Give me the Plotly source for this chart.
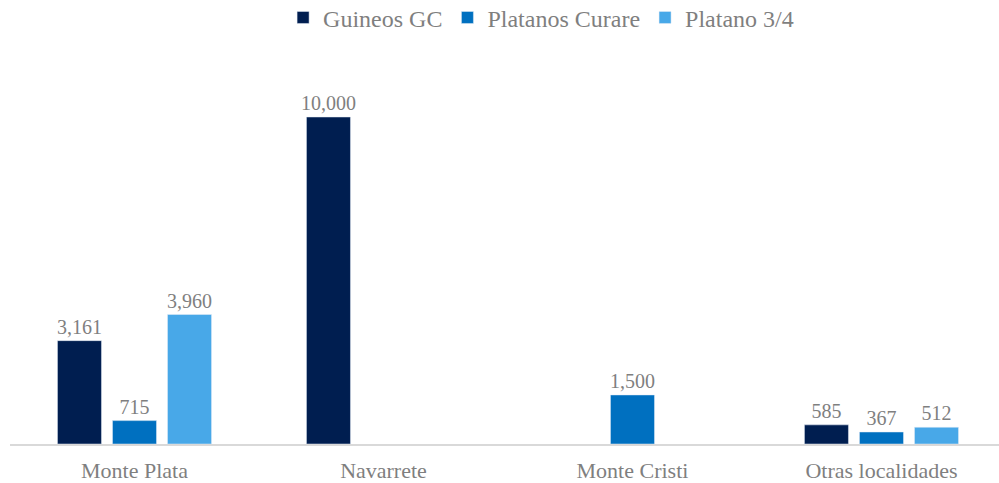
import plotly.graph_objects as go

categories = ["Monte Plata", "Navarrete", "Monte Cristi", "Otras localidades"]
series_names = ["Guineos GC", "Platanos Curare", "Platano 3/4"]
guineos_gc = [3161, 10000, None, 585]
platanos_curare = [715, None, 1500, 367]
platano_34 = [3960, None, None, 512]
colors = ["#001E50", "#0070C0", "#48A8E8"]

fig = go.Figure()
for name, vals, col in zip(series_names, [guineos_gc, platanos_curare, platano_34], colors):
    fig.add_trace(go.Bar(
        x=categories, y=vals, name=name, marker_color=col,
        text=[f"{v:,}" if v is not None else "" for v in vals],
        textposition="outside", cliponaxis=False, constraintext="none",
        textfont=dict(family="Liberation Serif", size=20, color="#7F7F7F"),
    ))

fig.update_layout(
    width=999, height=483,
    margin=dict(l=10, r=0, t=60, b=39, autoexpand=False),
    plot_bgcolor="white", paper_bgcolor="white",
    barmode="group", bargap=0.337, bargroupgap=0.2,
    font=dict(family="Liberation Serif", color="#7F7F7F"),
    legend=dict(orientation="h", x=0.537, xanchor="center", yref="container", y=0.963, yanchor="middle",
                font=dict(size=24, color="#7F7F7F"), traceorder="normal",
                itemwidth=30, tracegroupgap=0),
    showlegend=True,
)
fig.update_xaxes(showline=True, linecolor="#D9D9D9", linewidth=2, showgrid=False, automargin=False,
                 ticks="", tickfont=dict(size=22, color="#7F7F7F"), range=[-0.5, 3.472],
                 ticklabelstandoff=6)
fig.update_yaxes(visible=False, range=[0, 11743])

fig.write_html("out.html", config={"displayModeBar": False},
               post_script="document.body.style.margin='0';document.body.style.overflow='hidden';")
